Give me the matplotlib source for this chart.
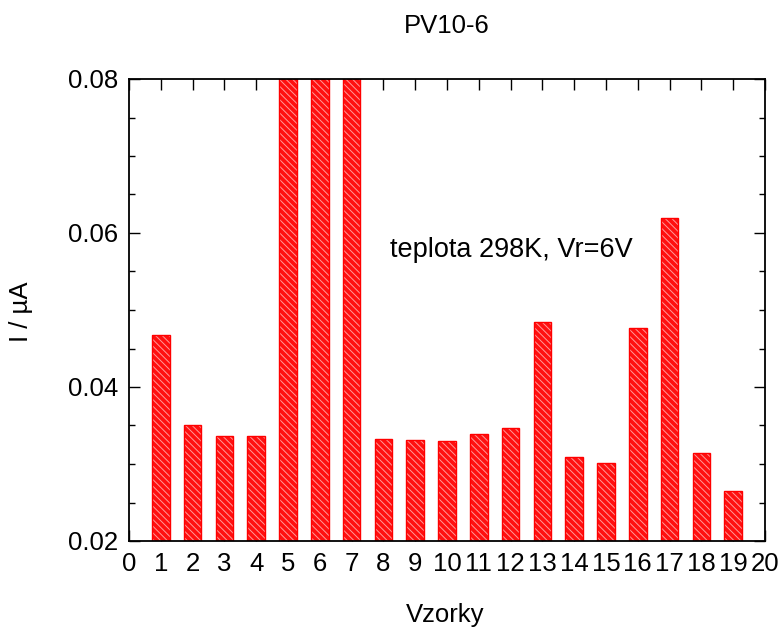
import matplotlib
matplotlib.use("Agg")
import matplotlib.pyplot as plt
from matplotlib.ticker import MultipleLocator

plt.rcParams['font.family'] = ['Liberation Sans', 'DejaVu Sans']

samples = list(range(1, 20))
currents = [0.0468, 0.0350, 0.0337, 0.0336, 0.15, 0.15, 0.15,
            0.0332, 0.0331, 0.0330, 0.0339, 0.0347, 0.0485,
            0.0309, 0.0301, 0.0476, 0.0619, 0.0314, 0.0265]

title = "PV10-6"
note = "teplota 298K, Vr=6V"
xlabel = "Vzorky"
ylabel = "I / µA"

fig = plt.figure(figsize=(7.82, 6.31), dpi=100)
ax = fig.add_axes([129 / 782, 1 - 541 / 631, (765 - 129) / 782, (541 - 79) / 631])

plt.rcParams['hatch.linewidth'] = 0.7
# hatched fill
ax.bar(samples, currents, width=0.55, color='#ff1010', edgecolor='#ff9a9a',
       hatch='\\\\\\\\\\', linewidth=0, zorder=2)
# solid outline
ax.bar(samples, currents, width=0.55, fill=False, edgecolor='#ff0000',
       linewidth=1.0, zorder=3)

ax.set_xlim(0, 20)
ax.set_ylim(0.02, 0.08)
ax.xaxis.set_major_locator(MultipleLocator(1))
ax.yaxis.set_major_locator(MultipleLocator(0.02))
ax.yaxis.set_minor_locator(MultipleLocator(0.005))
ax.yaxis.set_major_formatter(plt.FuncFormatter(lambda v, p: f"{v:.2f}"))

ax.tick_params(which='both', direction='in', top=True, right=True,
               labelsize=18.5, width=1.0, color='black')
ax.tick_params(which='major', length=8, pad=8)
ax.tick_params(which='minor', length=4)
for s in ax.spines.values():
    s.set_linewidth(1.3)
    s.set_zorder(5)

ax.text(12.03, 0.0569, note, fontsize=19.5, ha='center', va='baseline')
fig.text(447 / 782, 1 - 26 / 631, title, fontsize=18.5, ha='center', va='center')
fig.text(445 / 782, 1 - 615 / 631, xlabel, fontsize=18.5, ha='center', va='center')
fig.text(21 / 782, 1 - 312 / 631, ylabel, fontsize=18.5, ha='center', va='center',
         rotation=90)

fig.savefig("out.png", dpi=100)
